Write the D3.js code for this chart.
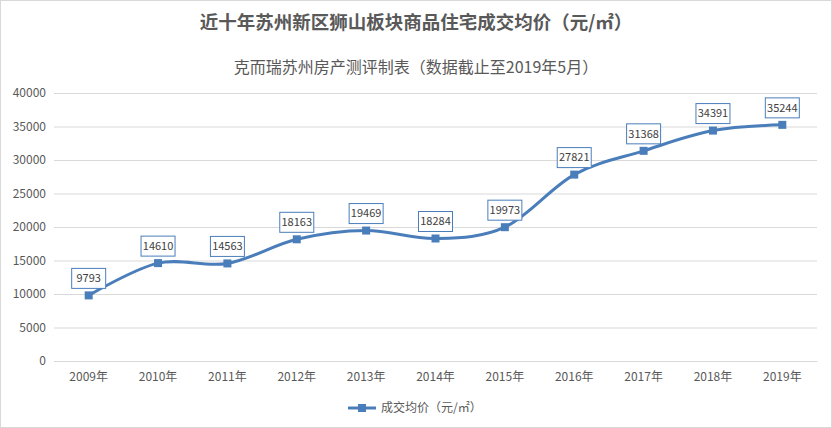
<!DOCTYPE html>
<html><head><meta charset="utf-8">
<script src="https://cdn.jsdelivr.net/npm/d3@7"></script>
<style>body{margin:0;background:#fff}svg{display:block;font-family:"Noto Sans CJK SC","Microsoft YaHei",sans-serif}</style>
</head><body><svg id="c" width="832" height="428"></svg>
<script>
const categories = ["2009年","2010年","2011年","2012年","2013年","2014年","2015年","2016年","2017年","2018年","2019年"];
const values = [9793,14610,14563,18163,19469,18284,19973,27821,31368,34391,35244];
const yTicks = [0,5000,10000,15000,20000,25000,30000,35000,40000];
const title = "近十年苏州新区狮山板块商品住宅成交均价（元/㎡）";
const subtitle = "克而瑞苏州房产测评制表（数据截止至2019年5月）";
const seriesName = "成交均价（元/㎡）";

const svg = d3.select("#c");
const W = 832, H = 428;
const color = "#4a7ebb", textC = "#595959";
svg.append("rect").attr("x",0.5).attr("y",0.5).attr("width",W-1).attr("height",H-1).attr("fill","#fff").attr("stroke","#d9d9d9");

const x = d3.scaleBand().domain(categories).range([54,817]);
const y = d3.scaleLinear().domain([0,40000]).range([361,93]);

svg.append("text").attr("x",416).attr("y",29).attr("text-anchor","middle").attr("font-size",18.5).attr("font-weight","bold").attr("fill",textC).text(title);
svg.append("text").attr("x",416).attr("y",73).attr("text-anchor","middle").attr("font-size",16).attr("fill",textC).text(subtitle);

const gy = svg.append("g").attr("transform","translate(54,0)")
  .call(d3.axisLeft(y).tickValues(yTicks).tickSize(-763).tickPadding(8).tickFormat(d3.format("d")));
gy.select(".domain").remove();
gy.selectAll("line").attr("stroke","#d9d9d9");
gy.selectAll("text").attr("fill",textC).attr("font-size",12).attr("font-family","'Noto Sans CJK SC',sans-serif");

const gx = svg.append("g").attr("transform","translate(0,361)")
  .call(d3.axisBottom(x).tickSize(0).tickPadding(11));
gx.select(".domain").attr("stroke","#d9d9d9");
gx.selectAll("text").attr("fill",textC).attr("font-size",12).attr("font-family","'Noto Sans CJK SC',sans-serif");

const cx = d => x(d) + x.bandwidth()/2;
const line = d3.line().x((d,i)=>cx(categories[i])).y(d=>y(d)).curve(d3.curveCardinal.tension(0));
svg.append("path").datum(values).attr("d",line).attr("fill","none").attr("stroke",color).attr("stroke-width",3);
svg.selectAll(".m").data(values).enter().append("rect")
  .attr("x",(d,i)=>cx(categories[i])-4).attr("y",d=>y(d)-4).attr("width",8).attr("height",8).attr("fill",color);

const lab = svg.selectAll(".lab").data(values).enter().append("g")
  .attr("transform",(d,i)=>`translate(${cx(categories[i])},${y(d)-17})`);
lab.append("rect").attr("x",-17).attr("y",-10).attr("width",34).attr("height",20).attr("fill","#fff").attr("stroke",color).attr("stroke-width",1);
lab.append("text").attr("text-anchor","middle").attr("dy","0.35em").attr("font-size",11).attr("fill","#404040").text(d=>d);

const lg = svg.append("g").attr("transform","translate(348,408)");
lg.append("line").attr("x1",0).attr("x2",28).attr("stroke",color).attr("stroke-width",3);
lg.append("rect").attr("x",10).attr("y",-4).attr("width",8).attr("height",8).attr("fill",color);
lg.append("text").attr("x",33).attr("dy","0.35em").attr("font-size",12).attr("fill",textC).text(seriesName);
</script></body></html>
